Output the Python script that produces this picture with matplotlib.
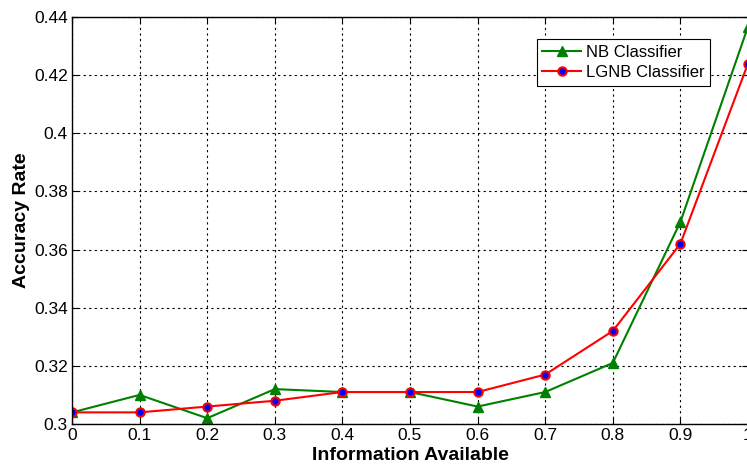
import matplotlib.pyplot as plt
import numpy as np

plt.rcParams['font.family'] = ['Liberation Sans', 'DejaVu Sans']

info = [0, 0.1, 0.2, 0.3, 0.4, 0.5, 0.6, 0.7, 0.8, 0.9, 1.0]
nb_acc = [0.304, 0.310, 0.302, 0.312, 0.311, 0.311, 0.306, 0.311, 0.321, 0.3695, 0.4367]
lgnb_acc = [0.304, 0.304, 0.306, 0.308, 0.311, 0.311, 0.311, 0.317, 0.332, 0.362, 0.424]
xticks = [0, 0.1, 0.2, 0.3, 0.4, 0.5, 0.6, 0.7, 0.8, 0.9, 1]
yticks = [0.3, 0.32, 0.34, 0.36, 0.38, 0.4, 0.42, 0.44]

fig = plt.figure(figsize=(7.47, 4.69), dpi=100)
ax = fig.add_axes([72/747, 45/469, 676/747, 407/469])

ax.plot(info, nb_acc, color='green', marker='^', ms=7, lw=1.5,
        mfc='green', mec='green', label='NB Classifier')
ax.plot(info, lgnb_acc, color='red', marker='o', ms=6, lw=1.5,
        mfc='blue', mec='red', mew=1.5, label='LGNB Classifier')

ax.set_xlim(0, 1)
ax.set_ylim(0.3, 0.44)
ax.set_xticks(xticks)
ax.set_xticklabels(['0', '0.1', '0.2', '0.3', '0.4', '0.5', '0.6', '0.7', '0.8', '0.9', '1'])
ax.set_yticks(yticks)
ax.set_yticklabels(['0.3', '0.32', '0.34', '0.36', '0.38', '0.4', '0.42', '0.44'])
ax.tick_params(direction='in', labelsize=12.5, top=True, right=True, length=4, pad=3)
ax.grid(True, color='black', ls=(0, (2, 3)), lw=0.8)
for s in ax.spines.values():
    s.set_linewidth(1.0)

ax.set_xlabel('Information Available', fontsize=14, fontweight='bold', labelpad=3)
ax.set_ylabel('Accuracy Rate', fontsize=14, fontweight='bold', labelpad=3)

leg = ax.legend(loc='upper left', bbox_to_anchor=(0.675, 0.966), fontsize=12,
                fancybox=False, framealpha=1, edgecolor='black',
                borderpad=0.35, labelspacing=0.3, handlelength=2.3, handletextpad=0.3)
leg.get_frame().set_linewidth(0.8)

fig.savefig('out.png', dpi=100)
